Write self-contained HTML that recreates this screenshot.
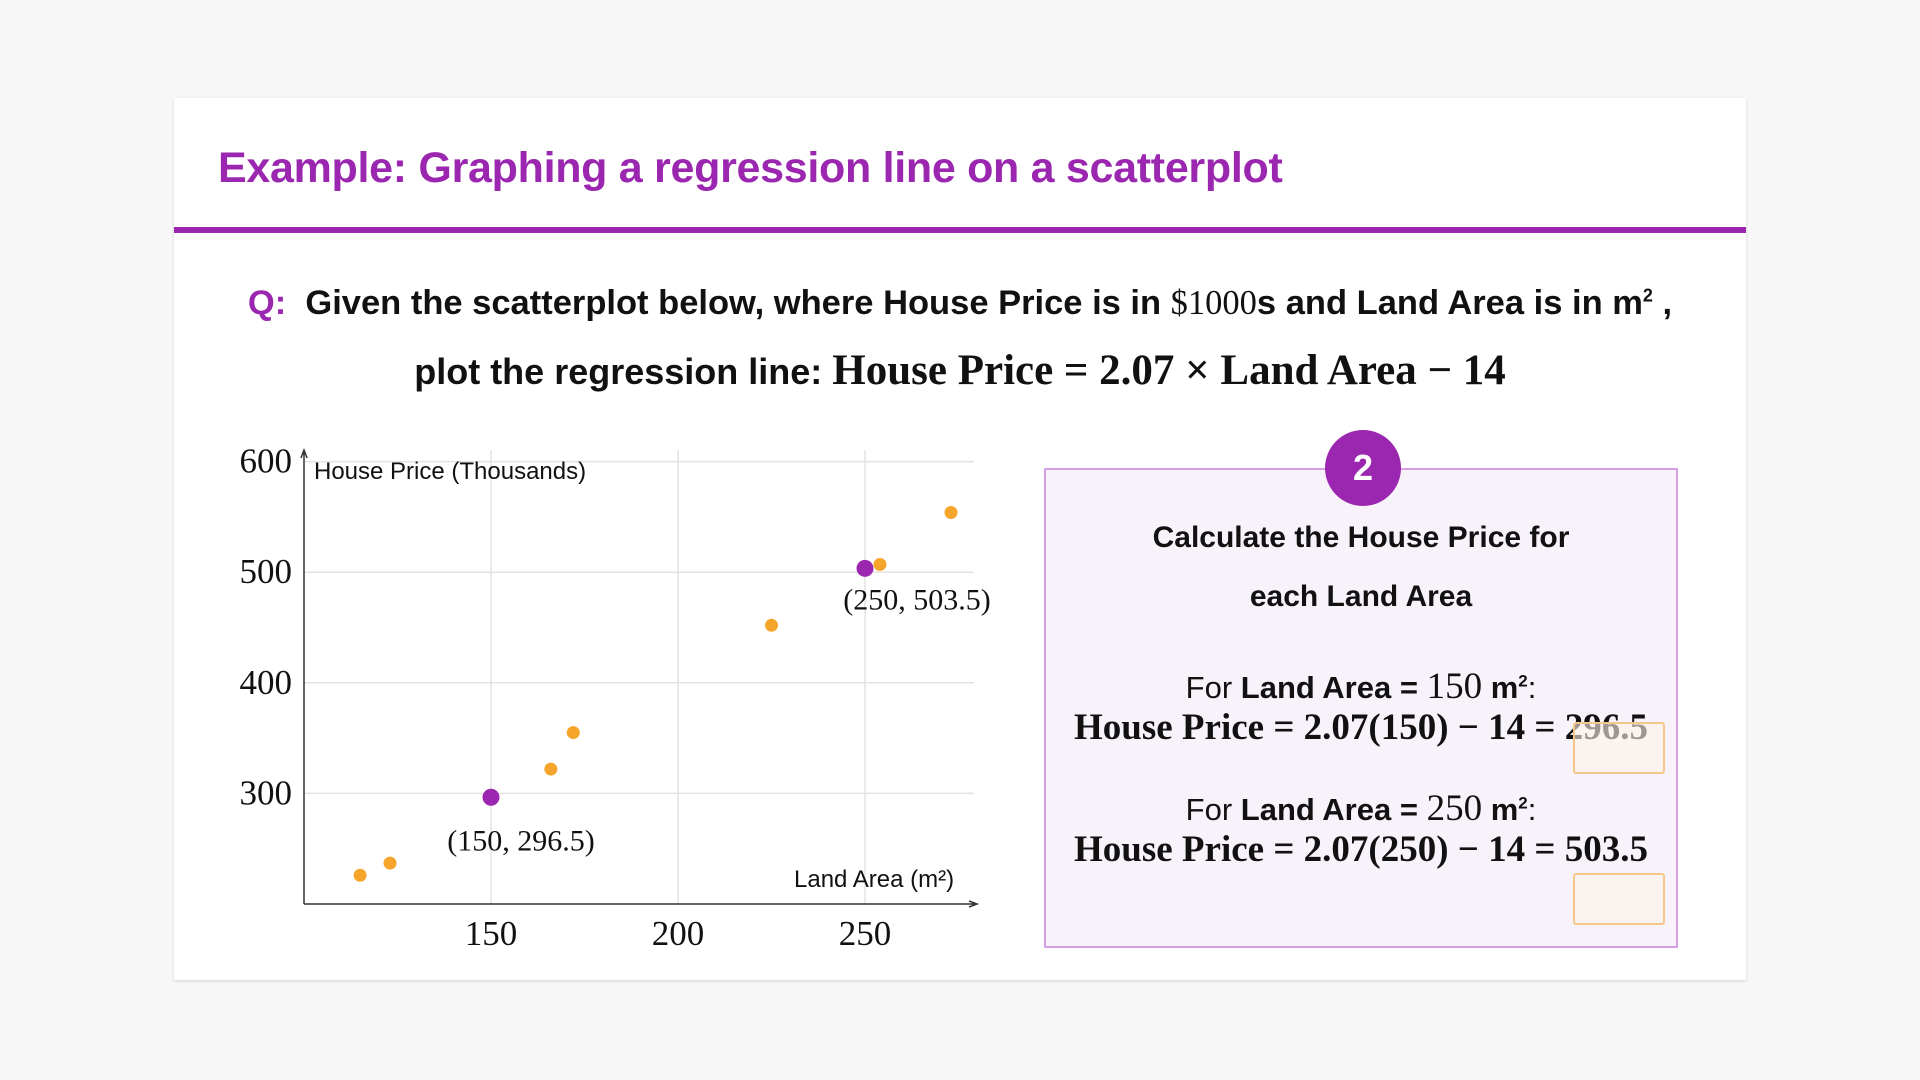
<!DOCTYPE html>
<html><head><meta charset="utf-8">
<style>
body{margin:0;width:1920px;height:1080px;background:#f7f7f7;font-family:"Liberation Sans",sans-serif;position:relative;overflow:hidden}
.card{position:absolute;left:174px;top:98px;width:1572px;height:882px;background:#fff;box-shadow:0 1px 3px rgba(0,0,0,.15)}
.title{position:absolute;left:44px;top:46px;font-size:43px;font-weight:bold;color:#9b27b0;letter-spacing:-0.3px}
.rule{position:absolute;left:0;top:129px;width:1572px;height:6px;background:#9b27b0}
.q{position:absolute;left:0;width:1572px;text-align:center;font-weight:bold;color:#111;white-space:nowrap}
.m{font-family:"Liberation Serif",serif;font-weight:normal}
.mb{font-family:"Liberation Serif",serif;font-weight:bold}
.box{position:absolute;left:870px;top:370px;width:630px;height:476px;background:#f8f3fa;border:2px solid #d79ee3}
.badge{position:absolute;left:1151px;top:332px;width:76px;height:76px;border-radius:50%;background:#9b27b0;color:#fff;font-size:36px;font-weight:bold;text-align:center;line-height:76px}
.bt{position:absolute;left:870px;width:634px;text-align:center;color:#111;white-space:nowrap}
.ob{position:absolute;width:88px;height:48px;border:2px solid #f6c78a;border-radius:3px;background:rgba(253,243,234,0.6)}
</style></head><body>
<div class="card">
<div class="title">Example: Graphing a regression line on a scatterplot</div>
<div class="rule"></div>
<div class="q" style="top:186px;font-size:34.5px"><span style="color:#9b27b0">Q:</span>&nbsp; Given the scatterplot below, where House Price is in <span class="m">$1000</span>s and Land Area is in m<sup style="font-size:18px">2</sup> ,</div>
<div class="q" style="top:248px;font-size:36px">plot the regression line: <span class="mb" style="font-size:43px">House Price = 2.07 × Land Area − 14</span></div>

<svg id="chart" style="position:absolute;left:0;top:0" width="1000" height="882"></svg>

<div class="box"></div>
<div class="badge">2</div>
<div class="bt" style="top:410px;font-size:30px;font-weight:bold;line-height:59px">Calculate the House Price for<br>each Land Area</div>
<div class="bt" style="top:567px;font-size:31px">For <b>Land Area =</b> <span class="m" style="font-size:37px">150</span> <b>m<sup style="font-size:17px">2</sup></b>:</div>
<div class="bt" style="top:608px;font-size:37px"><span class="mb">House Price = 2.07(150) − 14 = 296.5</span></div>
<div class="bt" style="top:689px;font-size:31px">For <b>Land Area =</b> <span class="m" style="font-size:37px">250</span> <b>m<sup style="font-size:17px">2</sup></b>:</div>
<div class="bt" style="top:730px;font-size:37px"><span class="mb">House Price = 2.07(250) − 14 = 503.5</span></div>
<div class="ob" style="left:1399px;top:624px"></div>
<div class="ob" style="left:1399px;top:775px"></div>
</div>
<script>
const xTicks=[150,200,250];
const yTicks=[300,400,500,600];
const areas=[115,123,166,172,225,254,273];
const prices=[226,237,322,355,452,507,554];
const keyX=[150,250];
const keyY=[296.5,503.5];
const keyLabels=["(150, 296.5)","(250, 503.5)"];
const ns="http://www.w3.org/2000/svg";
const svg=document.getElementById('chart');
const X0=130,Y0=806,PX=187/50,PY=110.6/100;
const sx=v=>X0+(v-100)*PX, sy=v=>Y0-(v-200)*PY;
function el(t,a,txt){const e=document.createElementNS(ns,t);for(const k in a)e.setAttribute(k,a[k]);if(txt!=null)e.textContent=txt;svg.appendChild(e);return e;}
xTicks.forEach(t=>{const g=el('line',{x1:sx(t),x2:sx(t),y1:352,y2:Y0,stroke:'#e3e3e3','stroke-width':1.5});

const l=el('text',{x:sx(t),y:847,'text-anchor':'middle','font-size':35,'font-family':'Liberation Serif, serif',fill:'#111'},t);
});
yTicks.forEach(t=>{const g=el('line',{x1:X0,x2:800,y1:sy(t),y2:sy(t),stroke:'#e3e3e3','stroke-width':1.5});

const l=el('text',{x:118,y:sy(t)+11,'text-anchor':'end','font-size':35,'font-family':'Liberation Serif, serif',fill:'#111'},t);
});
let a=el('path',{d:`M${X0} ${Y0}V354M${X0-3} 360L${X0} 352L${X0+3} 360`,stroke:'#333','stroke-width':1.5,fill:'none'});

a=el('path',{d:`M${X0} ${Y0}H802M795 ${Y0-3}L803 ${Y0}L795 ${Y0+3}`,stroke:'#333','stroke-width':1.5,fill:'none'});

let t=el('text',{x:140,y:381,'font-size':24,fill:'#111'},'House Price (Thousands)');

t=el('text',{x:620,y:789,'font-size':24,fill:'#111'},'Land Area (m²)');

areas.forEach((v,i)=>{const c=el('circle',{cx:sx(v),cy:sy(prices[i]),r:6.5,fill:'#f5a52a'});
});
keyX.forEach((v,i)=>{const c=el('circle',{cx:sx(v),cy:sy(keyY[i]),r:8.5,fill:'#9b27b0'});

const l=el('text',{x:sx(v)+(i?52:30),y:sy(keyY[i])+(i?41:53),'text-anchor':'middle','font-size':30,'font-family':'Liberation Serif, serif',fill:'#111'},keyLabels[i]);
});
</script>
</body></html>
